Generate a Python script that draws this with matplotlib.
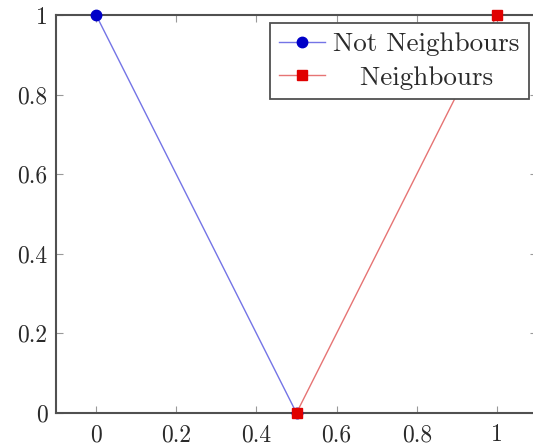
import matplotlib
matplotlib.use("Agg")
import matplotlib.pyplot as plt

# data
x_not = [0, 0.5]
y_not = [1, 0]
x_nb = [0.5, 1]
y_nb = [0, 1]

xticks = [0, 0.2, 0.4, 0.6, 0.8, 1]
yticks = [0, 0.2, 0.4, 0.6, 0.8, 1]
xlabels = ["0", "0.2", "0.4", "0.6", "0.8", "1"]
ylabels = ["0", "0.2", "0.4", "0.6", "0.8", "1"]

plt.rcParams["font.family"] = ["cmr10", "DejaVu Serif"]
plt.rcParams["axes.formatter.use_mathtext"] = True

fig = plt.figure(figsize=(5.33, 4.48), dpi=100)
ax = fig.add_axes([56 / 533, 1 - 413 / 448, 481 / 533, 398 / 448])

ax.plot(x_not, y_not, color="#7474e6", lw=1.0, marker="o", ms=7.5,
        mfc="#0000c8", mec="#0000c8", label="Not Neighbours", clip_on=False, zorder=3)
ax.plot(x_nb, y_nb, color="#e67474", lw=1.0, marker="s", ms=7,
        mfc="#e00000", mec="#e00000", label="   Neighbours", clip_on=False, zorder=4)

ax.set_xlim(-0.1, 1.1)
ax.set_ylim(0, 1)
ax.set_xticks(xticks)
ax.set_xticklabels(xlabels)
ax.set_yticks(yticks)
ax.set_yticklabels(ylabels)

ax.tick_params(direction="in", top=True, right=True, length=5, width=0.8,
               color="#999999", labelsize=17, labelcolor="#2a2a2a")
ax.tick_params(axis="x", pad=8)
ax.tick_params(axis="y", pad=6)
for s in ax.spines.values():
    s.set_color("#505050")
    s.set_linewidth(1.5)

leg = ax.legend(loc="upper right", bbox_to_anchor=(529 / 533, 1 - 23 / 448),
                bbox_transform=fig.transFigure, fontsize=19.5, fancybox=False,
                framealpha=1, edgecolor="#505050", handlelength=1.7,
                handletextpad=0.3, borderpad=0.35, labelspacing=0.35,
                borderaxespad=0)
leg.get_frame().set_linewidth(1.3)
for t in leg.get_texts():
    t.set_color("#2a2a2a")

plt.savefig("out.png", dpi=100)
